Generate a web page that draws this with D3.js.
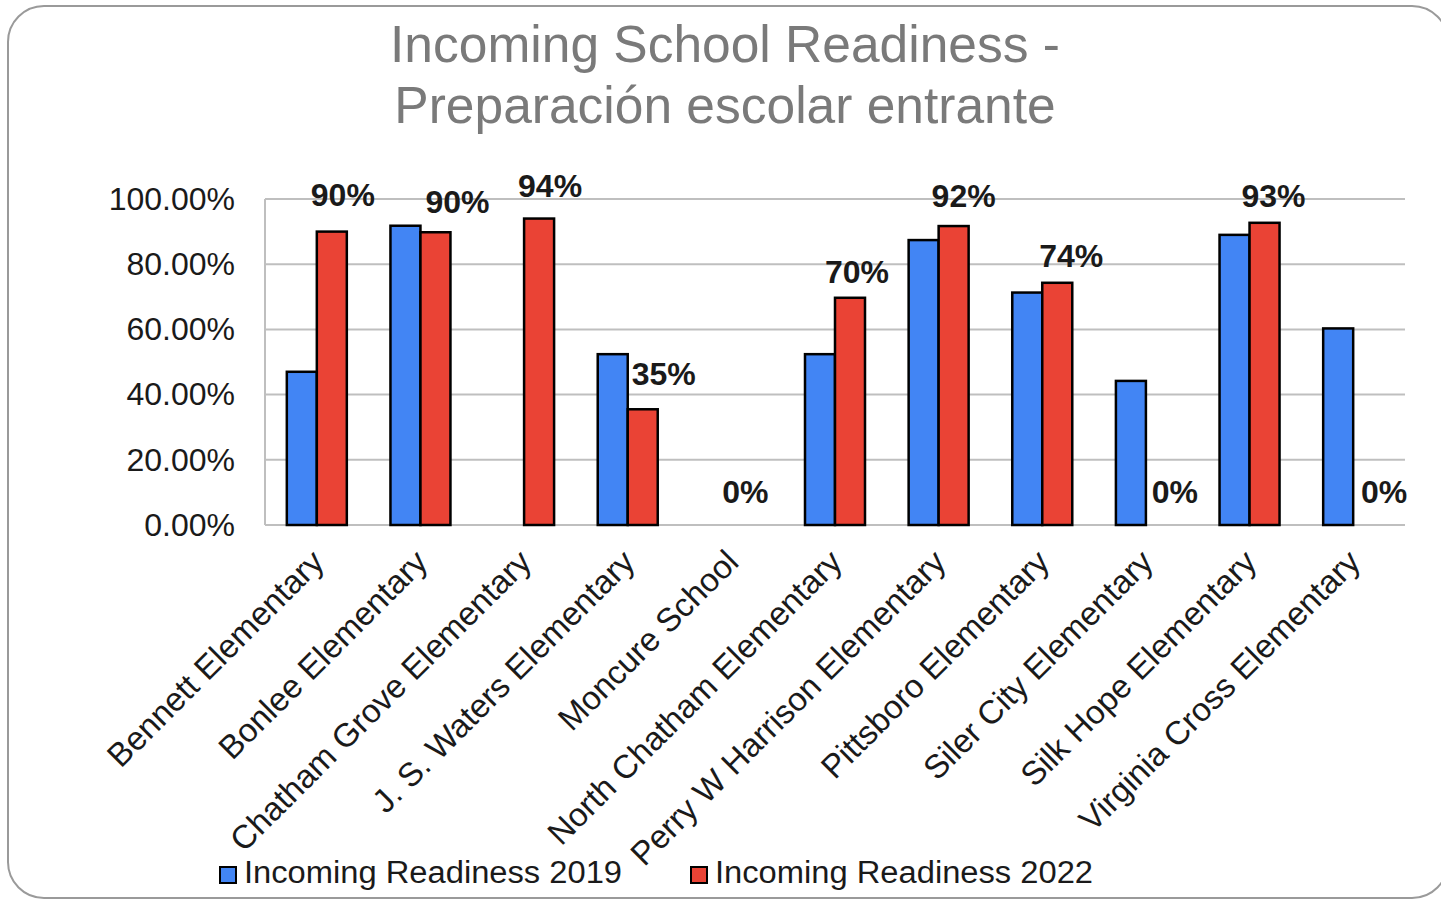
<!DOCTYPE html>
<html>
<head>
<meta charset="utf-8">
<script src="https://cdn.jsdelivr.net/npm/d3@7"></script>
<style>
  html, body { margin: 0; padding: 0; background: #ffffff; }
  svg { display: block; }
  text { font-family: "Liberation Sans", Arial, sans-serif; }
</style>
</head>
<body>
<svg id="chart" width="1441" height="900"></svg>
<script>
// ---- data ----
const categories = [
  "Bennett Elementary", "Bonlee Elementary", "Chatham Grove Elementary",
  "J. S. Waters Elementary", "Moncure School", "North Chatham Elementary",
  "Perry W Harrison Elementary", "Pittsboro Elementary", "Siler City Elementary",
  "Silk Hope Elementary", "Virginia Cross Elementary"
];
const readiness2019 = [0.47, 0.918, null, 0.524, null, 0.524, 0.874, 0.713, 0.442, 0.89, 0.603];
const readiness2022 = [0.90, 0.898, 0.94, 0.355, 0, 0.697, 0.917, 0.743, 0, 0.927, 0];
const labels2022 = ["90%", "90%", "94%", "35%", "0%", "70%", "92%", "74%", "0%", "93%", "0%"];
const yTicks = [0, 0.2, 0.4, 0.6, 0.8, 1.0];
const seriesNames = ["Incoming Readiness 2019", "Incoming Readiness 2022"];
const titleLines = ["Incoming School Readiness -", "Preparación escolar entrante"];

// ---- layout / style ----
const colors = ["#4285f4", "#ea4335"];
const plot = { left: 265, right: 1405, top: 199, bottom: 525 };
const barW = 30;
// manual label nudges (as placed in the original chart)
const labelNudge = [[11,-18],[22,-11],[11,-14],[21,-16],[-1,-14],[7,-7],[10,-11],[14,-8],[14,-14],[9,-8],[16,-14]];

const svg = d3.select("#chart");

// frame
svg.append("rect")
  .attr("x", 8).attr("y", 6).attr("width", 1440).attr("height", 892)
  .attr("rx", 36).attr("ry", 36)
  .attr("fill", "#ffffff").attr("stroke", "#9a9a9a").attr("stroke-width", 2);

// title
const title = svg.append("text")
  .attr("text-anchor", "middle")
  .attr("fill", "#7a7a7a")
  .attr("font-size", 51.5);
titleLines.forEach((t, i) => {
  title.append("tspan").attr("x", 725).attr("y", 62 + i * 61).text(t);
});

const x = d3.scaleBand().domain(categories).range([plot.left, plot.right]).padding(0);
const y = d3.scaleLinear().domain([0, 1]).range([plot.bottom, plot.top]);

// gridlines
svg.append("g")
  .selectAll("line").data(yTicks).join("line")
  .attr("x1", plot.left).attr("x2", plot.right)
  .attr("y1", d => y(d)).attr("y2", d => y(d))
  .attr("stroke", "#bfbfbf").attr("stroke-width", 2);

// y axis line
svg.append("line")
  .attr("x1", plot.left).attr("x2", plot.left)
  .attr("y1", plot.top).attr("y2", plot.bottom)
  .attr("stroke", "#bfbfbf").attr("stroke-width", 2);

// y axis labels
const yAxis = d3.axisLeft(y).tickValues(yTicks).tickSize(0).tickPadding(30)
  .tickFormat(d => (d * 100).toFixed(2) + "%");
const gy = svg.append("g").attr("transform", `translate(${plot.left},0)`).call(yAxis);
gy.select(".domain").remove();
gy.selectAll("text")
  .attr("font-family", "'Liberation Sans', Arial, sans-serif")
  .attr("font-size", 32).attr("fill", "#1a1a1a");

// bars
const series = [readiness2019, readiness2022];
series.forEach((vals, si) => {
  svg.append("g")
    .selectAll("rect")
    .data(vals.map((v, i) => ({ v, c: categories[i] })).filter(d => d.v !== null && d.v > 0))
    .join("rect")
    .attr("x", d => x(d.c) + x.bandwidth() / 2 - barW + si * barW)
    .attr("y", d => y(d.v))
    .attr("width", barW)
    .attr("height", d => y(0) - y(d.v))
    .attr("fill", colors[si])
    .attr("stroke", "#000000")
    .attr("stroke-width", 2.5);
});

// data labels for 2022
svg.append("g")
  .selectAll("text")
  .data(readiness2022.map((v, i) => ({ v, i })))
  .join("text")
  .attr("x", d => x(categories[d.i]) + x.bandwidth() / 2 + barW / 2 + labelNudge[d.i][0])
  .attr("y", d => y(d.v) - 8 + labelNudge[d.i][1])
  .attr("text-anchor", "middle")
  .attr("font-size", 32).attr("font-weight", "bold").attr("fill", "#1a1a1a")
  .text(d => labels2022[d.i]);

// category labels
svg.append("g")
  .selectAll("text")
  .data(categories)
  .join("text")
  .attr("transform", d => `translate(${x(d) + x.bandwidth() / 2 + 9},${plot.bottom + 39}) rotate(-45)`)
  .attr("text-anchor", "end")
  .attr("font-size", 33).attr("fill", "#1a1a1a")
  .text(d => d);

// legend
const legendX = [220, 691];
seriesNames.forEach((name, i) => {
  svg.append("rect")
    .attr("x", legendX[i]).attr("y", 867).attr("width", 16).attr("height", 16)
    .attr("fill", colors[i]).attr("stroke", "#000").attr("stroke-width", 2);
  svg.append("text")
    .attr("x", legendX[i] + 24).attr("y", 883)
    .attr("font-size", 31).attr("fill", "#1a1a1a")
    .attr("textLength", 378).attr("lengthAdjust", "spacingAndGlyphs")
    .text(name);
});
</script>
</body>
</html>
